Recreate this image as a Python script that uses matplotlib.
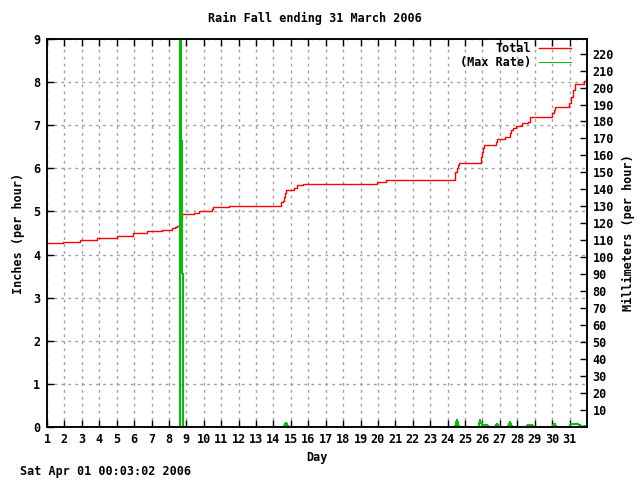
import matplotlib
matplotlib.use("Agg")
import matplotlib.pyplot as plt
import numpy as np

# Cumulative total rainfall (inches), step changes (day, value)
total_day = [1.00, 1.92, 2.89, 3.87, 5.02, 5.94, 6.74, 7.60, 8.20, 8.35, 8.46, 8.55, 8.61,
             8.69, 8.73, 9.44, 9.74, 10.45, 10.53, 11.47, 14.41, 14.55, 14.60, 14.66, 14.72,
             15.20, 15.35, 15.71, 19.93, 20.46, 24.42, 24.45, 24.52, 24.57, 24.65, 25.89,
             25.97, 26.05, 26.09, 26.75, 26.85, 27.32, 27.58, 27.64, 27.75, 27.95, 28.24,
             28.61, 28.73, 29.99, 30.08, 30.16, 30.97, 31.08, 31.20, 31.31, 31.83, 31.94, 32.0]
total_in = [4.26, 4.28, 4.33, 4.38, 4.43, 4.49, 4.55, 4.57, 4.61, 4.64, 4.66, 4.69, 4.74,
            4.85, 4.94, 4.97, 5.00, 5.06, 5.10, 5.12, 5.21, 5.25, 5.34, 5.43, 5.50,
            5.55, 5.61, 5.64, 5.68, 5.72, 5.80, 5.92, 6.00, 6.08, 6.12, 6.27,
            6.38, 6.47, 6.53, 6.61, 6.68, 6.73, 6.82, 6.89, 6.93, 6.98, 7.04,
            7.08, 7.18, 7.28, 7.35, 7.42, 7.51, 7.65, 7.82, 7.96, 8.03, 8.09, 8.09]

# Max rain rate (inches per hour)
rate_day = [1.0, 8.655, 8.66, 8.72, 8.73, 8.78, 8.79, 14.60, 14.73, 14.86,
            24.42, 24.54, 24.65, 25.76, 25.86, 25.87, 25.95, 25.96, 26.24, 26.32,
            26.76, 26.83, 26.92, 27.46, 27.58, 27.69, 28.50, 28.60, 28.85, 28.96,
            29.99, 30.13, 30.28, 30.97, 31.08, 31.49, 31.71, 31.80, 31.88, 31.96, 32.0]
rate_in = [0.0, 0.0, 15.0, 7.2, 3.6, 3.55, 0.0, 0.0, 0.10, 0.0,
           0.0, 0.17, 0.0, 0.0, 0.16, 0.10, 0.10, 0.05, 0.05, 0.0,
           0.0, 0.08, 0.0, 0.0, 0.11, 0.0, 0.0, 0.04, 0.04, 0.0,
           0.0, 0.07, 0.0, 0.0, 0.07, 0.07, 0.0, 0.0, 0.03, 0.0, 0.0]

day_ticks = list(range(1, 32))
in_ticks = list(range(0, 10))
mm_ticks = list(range(10, 230, 10))

FONT = dict(family="DejaVu Sans Mono", weight="bold", size=8.5)

fig = plt.figure(figsize=(6.4, 4.8), dpi=100)
ax = fig.add_axes([47/640, 53/480, 540/640, 388/480])
ax2 = ax.twinx()

ax.plot(total_day, total_in, color="#ff0000", lw=1.0, drawstyle="steps-post", label="Total", zorder=2)
ax.plot(rate_day, rate_in, color="#00c000", lw=0.72, label="(Max Rate)", zorder=2, antialiased=False)

ax.set_xlim(1, 32)
ax.set_ylim(0, 9)
ax2.set_ylim(0, 9 * 25.4)

ax.set_xticks(day_ticks)
ax.set_xticklabels([str(d) for d in day_ticks], fontdict=FONT)
ax.set_yticks(in_ticks)
ax.set_yticklabels([str(v) for v in in_ticks], fontdict=FONT)
ax2.set_yticks(mm_ticks)
ax2.set_yticklabels([str(v) for v in mm_ticks], fontdict=FONT)

ax.tick_params(axis="x", direction="in", length=5, width=1, top=True, pad=4)
ax.tick_params(axis="y", direction="in", length=5, width=1, right=False, pad=5)
ax2.tick_params(axis="y", direction="in", length=5, width=1, pad=4)

ax.grid(True, color="#a0a0a0", linestyle=(0, (2, 3)), linewidth=1.0, zorder=0)
for a in (ax, ax2):
    for s in a.spines.values():
        s.set_color("black")
        s.set_linewidth(1.1)
        s.set_zorder(5)

ax.set_xlabel("Day", fontdict=FONT, labelpad=4)
ax.set_ylabel("Inches (per hour)", fontdict=FONT, labelpad=6)
ax2.set_ylabel("Millimeters (per hour)", fontdict=FONT, labelpad=6)

fig.text(315/640, 1 - 18/480, "Rain Fall ending 31 March 2006", ha="center", va="center", **FONT)
fig.text(20/640, 1 - 471/480, "Sat Apr 01 00:03:02 2006", ha="left", va="center", **FONT)

leg = ax.legend(loc="upper right", frameon=False, markerfirst=False, handlelength=2.7,
                prop=dict(family="DejaVu Sans Mono", weight="bold", size=8.5),
                bbox_to_anchor=((571 - 47) / 540, (427 - 42) / 388),
                borderaxespad=0.0, borderpad=0.0, labelspacing=0.1, handletextpad=0.7)

fig.savefig("out.png", dpi=100)
